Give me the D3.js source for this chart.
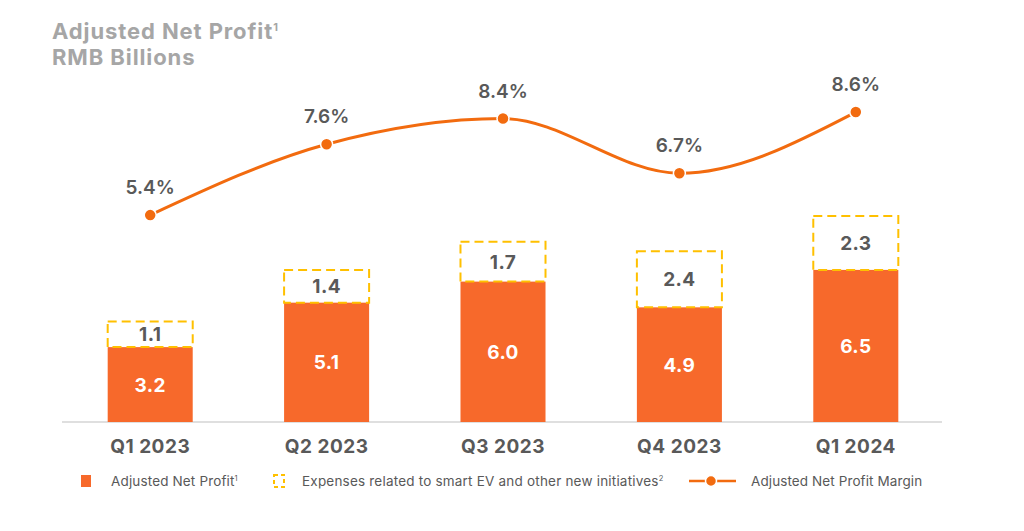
<!DOCTYPE html>
<html><head><meta charset="utf-8">
<script src="https://cdn.jsdelivr.net/npm/d3@7"></script>
<style>
html,body{margin:0;padding:0;background:#fff;}
svg{display:block;font-family:Inter, "Open Sans", sans-serif;}
</style></head>
<body>
<svg id="chart" width="1024" height="531"></svg>
<script>
const categories = ["Q1 2023","Q2 2023","Q3 2023","Q4 2023","Q1 2024"];
const profit = [3.2, 5.1, 6.0, 4.9, 6.5];
const expenses = [1.1, 1.4, 1.7, 2.4, 2.3];
const margin = [5.4, 7.6, 8.4, 6.7, 8.6];
const marginLabels = ["5.4%","7.6%","8.4%","6.7%","8.6%"];
const legendLabels = ["Adjusted Net Profit", "Expenses related to smart EV and other new initiatives", "Adjusted Net Profit Margin"];

const ORANGE = "#F7692B", LINE = "#F26B0F", YELLOW = "#FFC000", GRAY = "#595959", TITLE = "#A6A6A6";
const svg = d3.select("#chart");

const x = d3.scaleBand().domain(categories).range([62, 944]).paddingInner(0.518).paddingOuter(0.259);
const y = d3.scaleLinear().domain([0, 10]).range([422, 188]);
const ym = d3.scaleLinear().domain([0, 10]).range([389, 67]);

// title
svg.append("text").attr("x", 52).attr("y", 39).attr("fill", TITLE)
  .attr("font-size", 22).attr("font-weight", 700).attr("letter-spacing", 0.9)
  .text("Adjusted Net Profit").append("tspan").attr("font-size", 11).attr("dy", -8).text("1");
svg.append("text").attr("x", 52).attr("y", 65).attr("fill", TITLE)
  .attr("font-size", 22).attr("font-weight", 700).attr("letter-spacing", 0.9).text("RMB Billions");

// baseline
svg.append("line").attr("x1", 62).attr("x2", 942).attr("y1", y(0)).attr("y2", y(0))
  .attr("stroke", "#bfbfbf").attr("stroke-width", 1.2);

const data = categories.map((c, i) => ({c, p: profit[i], e: expenses[i], m: margin[i], ml: marginLabels[i]}));

// profit bars
svg.selectAll(".bar").data(data).join("rect")
  .attr("x", d => x(d.c)).attr("width", x.bandwidth())
  .attr("y", d => y(d.p)).attr("height", d => y(0) - y(d.p)).attr("fill", ORANGE);

// expenses dashed boxes
svg.selectAll(".exp").data(data).join("rect")
  .attr("x", d => x(d.c)).attr("width", x.bandwidth())
  .attr("y", d => y(d.p + d.e)).attr("height", d => y(d.p) - y(d.p + d.e))
  .attr("fill", "none").attr("stroke", YELLOW).attr("stroke-width", 2).attr("stroke-dasharray", "9,5");

// labels
svg.selectAll(".pl").data(data).join("text")
  .attr("x", d => x(d.c) + x.bandwidth()/2).attr("y", d => (y(d.p) + y(0))/2 + 7)
  .attr("text-anchor", "middle").attr("fill", "#fff").attr("font-size", 19).attr("font-weight", 700)
  .attr("letter-spacing", 0.4)
  .text(d => d.p.toFixed(1));
svg.selectAll(".el").data(data).join("text")
  .attr("x", d => x(d.c) + x.bandwidth()/2).attr("y", d => (y(d.p + d.e) + y(d.p))/2 + 7)
  .attr("text-anchor", "middle").attr("fill", GRAY).attr("font-size", 19).attr("font-weight", 700)
  .attr("letter-spacing", 0.4)
  .text(d => d.e.toFixed(1));

// axis labels
svg.selectAll(".cat").data(data).join("text")
  .attr("x", d => x(d.c) + x.bandwidth()/2).attr("y", 453)
  .attr("text-anchor", "middle").attr("fill", GRAY).attr("font-size", 19).attr("font-weight", 700)
  .attr("letter-spacing", 0.5)
  .text(d => d.c);

// line
const cx = d => x(d.c) + x.bandwidth()/2;
svg.append("path").datum(data)
  .attr("d", d3.line().x(cx).y(d => ym(d.m)).curve(d3.curveMonotoneX))
  .attr("fill", "none").attr("stroke", LINE).attr("stroke-width", 3);
svg.selectAll(".dot").data(data).join("circle")
  .attr("cx", cx).attr("cy", d => ym(d.m)).attr("r", 6)
  .attr("fill", LINE).attr("stroke", "#fff").attr("stroke-width", 1.5);
svg.selectAll(".ml").data(data).join("text")
  .attr("x", cx).attr("y", d => ym(d.m) - 21)
  .attr("text-anchor", "middle").attr("fill", GRAY).attr("font-size", 19).attr("font-weight", 600)
  .text(d => d.ml);

// legend
const ly = 481;
svg.append("rect").attr("x", 81).attr("y", ly - 6).attr("width", 10).attr("height", 12).attr("fill", ORANGE);
const t1 = svg.append("text").attr("x", 111).attr("y", ly + 4.5).attr("fill", GRAY).attr("font-size", 13.5).attr("letter-spacing", 0.15).text(legendLabels[0]);
t1.append("tspan").attr("font-size", 7.5).attr("dy", -5).text("1");
svg.append("rect").attr("x", 274).attr("y", ly - 6).attr("width", 10).attr("height", 12)
  .attr("fill", "none").attr("stroke", YELLOW).attr("stroke-width", 2).attr("stroke-dasharray", "4,3");
const t2 = svg.append("text").attr("x", 302).attr("y", ly + 4.5).attr("fill", GRAY).attr("font-size", 13.5).attr("letter-spacing", 0.2).text(legendLabels[1]);
t2.append("tspan").attr("font-size", 7.5).attr("dy", -5).text("2");
svg.append("line").attr("x1", 689).attr("x2", 736).attr("y1", ly).attr("y2", ly).attr("stroke", LINE).attr("stroke-width", 2.5);
svg.append("circle").attr("cx", 711).attr("cy", ly).attr("r", 5.5).attr("fill", LINE).attr("stroke", "#fff").attr("stroke-width", 1.5);
svg.append("text").attr("x", 751).attr("y", ly + 4.5).attr("fill", GRAY).attr("font-size", 13.5).attr("letter-spacing", 0.1).text(legendLabels[2]);
</script>
</body></html>
